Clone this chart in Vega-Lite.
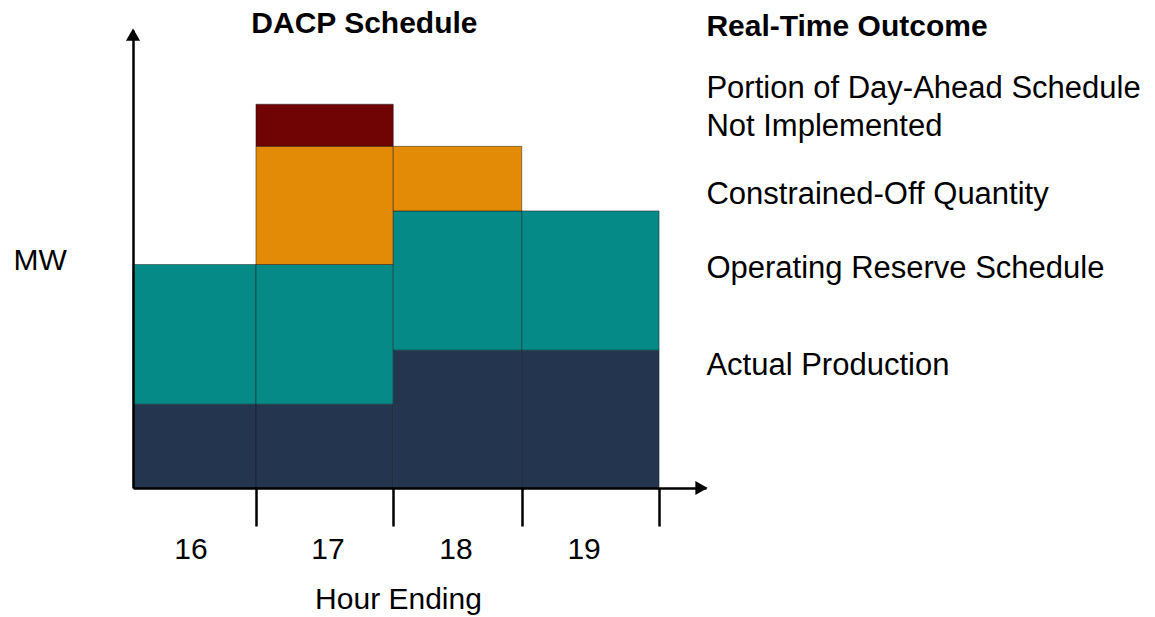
{
  "$schema": "https://vega.github.io/schema/vega-lite/v6.json",
  "width": 573,
  "height": 458,
  "autosize": {"type": "none"},
  "padding": {"left": 133, "top": 30, "right": 449, "bottom": 129},
  "background": "white",
  "config": {
    "view": {"stroke": null},
    "font": "Liberation Sans",
    "text": {"font": "Liberation Sans"}
  },
  "datasets": {
    "bars": [
      {"hour": "16", "component": "Actual Production", "start": 15, "end": 15.935, "low": 0, "high": 18.3},
      {"hour": "16", "component": "Operating Reserve Schedule", "start": 15, "end": 15.935, "low": 18.3, "high": 48.8},
      {"hour": "17", "component": "Actual Production", "start": 15.935, "end": 16.979, "low": 0, "high": 18.3},
      {"hour": "17", "component": "Operating Reserve Schedule", "start": 15.935, "end": 16.979, "low": 18.3, "high": 48.8},
      {"hour": "17", "component": "Constrained-Off Quantity", "start": 15.935, "end": 16.979, "low": 48.8, "high": 74.6},
      {"hour": "17", "component": "Portion of Day-Ahead Schedule Not Implemented", "start": 15.935, "end": 16.979, "low": 74.6, "high": 83.8},
      {"hour": "18", "component": "Actual Production", "start": 16.979, "end": 17.956, "low": 0, "high": 30.1},
      {"hour": "18", "component": "Operating Reserve Schedule", "start": 16.979, "end": 17.956, "low": 30.1, "high": 60.5},
      {"hour": "18", "component": "Constrained-Off Quantity", "start": 16.979, "end": 17.956, "low": 60.5, "high": 74.6},
      {"hour": "19", "component": "Actual Production", "start": 17.956, "end": 19.0, "low": 0, "high": 30.1},
      {"hour": "19", "component": "Operating Reserve Schedule", "start": 17.956, "end": 19.0, "low": 30.1, "high": 60.5}
    ],
    "arrows": [
      {"ax": 15, "ay": 99.0, "shape": "triangle-up"},
      {"ax": 19.323, "ay": 0, "shape": "triangle-right"}
    ],
    "hourLabels": [
      {"hour": "16", "lx": 15.441},
      {"hour": "17", "lx": 16.483},
      {"hour": "18", "lx": 17.456},
      {"hour": "19", "lx": 18.43}
    ],
    "boldLabels": [
      {"label": "DACP Schedule", "lx": 15.9, "ly": 99.3},
      {"label": "Real-Time Outcome", "lx": 19.36, "ly": 98.69}
    ],
    "legendLabels": [
      {"label": "Portion of Day-Ahead Schedule", "ly": 85.09},
      {"label": "Not Implemented", "ly": 76.86},
      {"label": "Constrained-Off Quantity", "ly": 62.01},
      {"label": "Operating Reserve Schedule", "ly": 45.85},
      {"label": "Actual Production", "ly": 24.67}
    ]
  },
  "layer": [
    {
      "data": {"name": "bars"},
      "mark": {"type": "rect", "stroke": "#111111", "strokeOpacity": 0.45, "strokeWidth": 1},
      "encoding": {
        "x": {
          "field": "start", "type": "quantitative",
          "scale": {"domain": [15, 19.357], "nice": false, "zero": false},
          "axis": {
            "values": [15.935, 16.979, 17.956, 19.0],
            "labels": false, "grid": false,
            "tickSize": 38, "tickWidth": 2.5, "tickColor": "black",
            "domainColor": "black", "domainWidth": 2.5,
            "zindex": 1,
            "title": "Hour Ending", "titleFontSize": 30, "titleFontWeight": "normal",
            "titleColor": "black", "titleX": 265, "titleY": 120,
            "titleAlign": "center", "titleBaseline": "alphabetic"
          }
        },
        "x2": {"field": "end"},
        "y": {
          "field": "low", "type": "quantitative",
          "scale": {"domain": [0, 100], "nice": false, "zero": true},
          "axis": {
            "ticks": false, "labels": false, "grid": false,
            "domainColor": "black", "domainWidth": 2.5, "zindex": 1,
            "title": "MW", "titleFontSize": 30, "titleFontWeight": "normal",
            "titleColor": "black", "titleAngle": 0, "titleX": -120, "titleY": 239,
            "titleAlign": "left", "titleBaseline": "alphabetic"
          }
        },
        "y2": {"field": "high"},
        "color": {
          "field": "component", "type": "nominal",
          "scale": {
            "domain": ["Actual Production", "Operating Reserve Schedule", "Constrained-Off Quantity", "Portion of Day-Ahead Schedule Not Implemented"],
            "range": ["#243550", "#068A88", "#E38A07", "#700404"]
          },
          "legend": null
        }
      }
    },
    {
      "data": {"name": "arrows"},
      "mark": {"type": "point", "filled": true, "color": "black", "opacity": 1, "size": 200},
      "encoding": {
        "x": {"field": "ax", "type": "quantitative", "scale": {"domain": [15, 19.357], "nice": false, "zero": false}},
        "y": {"field": "ay", "type": "quantitative", "scale": {"domain": [0, 100], "nice": false}},
        "shape": {"field": "shape", "type": "nominal", "scale": null, "legend": null}
      }
    },
    {
      "data": {"name": "hourLabels"},
      "mark": {"type": "text", "fontSize": 30, "align": "center", "baseline": "alphabetic", "color": "black"},
      "encoding": {
        "x": {"field": "lx", "type": "quantitative", "scale": {"domain": [15, 19.357], "nice": false, "zero": false}},
        "y": {"datum": -15.5, "type": "quantitative", "scale": {"domain": [0, 100], "nice": false}},
        "text": {"field": "hour"}
      }
    },
    {
      "data": {"name": "boldLabels"},
      "mark": {"type": "text", "fontSize": 30, "fontWeight": "bold", "align": "left", "baseline": "alphabetic", "color": "black"},
      "encoding": {
        "x": {"field": "lx", "type": "quantitative", "scale": {"domain": [15, 19.357], "nice": false, "zero": false}},
        "y": {"field": "ly", "type": "quantitative", "scale": {"domain": [0, 100], "nice": false}},
        "text": {"field": "label"}
      }
    },
    {
      "data": {"name": "legendLabels"},
      "mark": {"type": "text", "fontSize": 31, "align": "left", "baseline": "alphabetic", "color": "black"},
      "encoding": {
        "x": {"datum": 19.36, "type": "quantitative", "scale": {"domain": [15, 19.357], "nice": false, "zero": false}},
        "y": {"field": "ly", "type": "quantitative", "scale": {"domain": [0, 100], "nice": false}},
        "text": {"field": "label"}
      }
    }
  ]
}
